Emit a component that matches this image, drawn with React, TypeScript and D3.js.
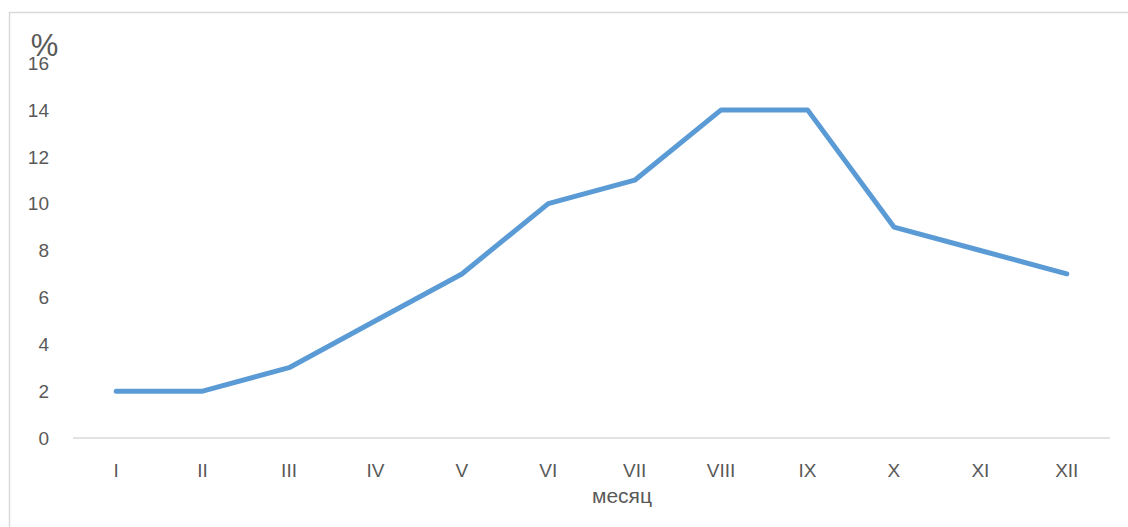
import React from "react";
import * as d3 from "d3";

const months = ["I", "II", "III", "IV", "V", "VI", "VII", "VIII", "IX", "X", "XI", "XII"];
const values = [2, 2, 3, 5, 7, 10, 11, 14, 14, 9, 8, 7];
const yTicks = [0, 2, 4, 6, 8, 10, 12, 14, 16];

const W = 1128;
const H = 527;
const font = "'Liberation Sans', Arial, sans-serif";
const textColor = "#595959";

export default function App() {
  const x = d3.scalePoint<string>().domain(months).range([73, 1110]).padding(0.5);
  const y = d3.scaleLinear().domain([0, 16]).range([438, 63]);
  const line = d3
    .line<number>()
    .x((_, i) => x(months[i]) as number)
    .y((d) => y(d));

  return (
    <svg
      width={W}
      height={H}
      style={{ position: "absolute", left: 0, top: 0, background: "#fff" }}
    >
      <rect x={0} y={0} width={W} height={H} fill="#fff" />
      <rect x={9.5} y={12.5} width={W + 20} height={H + 20} fill="none" stroke="#d9d9d9" strokeWidth={1.5} />
      <line x1={73} x2={1110} y1={y(0)} y2={y(0)} stroke="#d9d9d9" strokeWidth={1.5} />
      {yTicks.map((t) => (
        <text
          key={t}
          x={49}
          y={y(t)}
          dy="0.36em"
          textAnchor="end"
          fontFamily={font}
          fontSize={19}
          fill={textColor}
        >
          {t}
        </text>
      ))}
      {months.map((m) => (
        <text
          key={m}
          x={x(m) as number}
          y={477}
          textAnchor="middle"
          fontFamily={font}
          fontSize={19}
          fill={textColor}
        >
          {m}
        </text>
      ))}
      <text x={622} y={503} textAnchor="middle" fontFamily={font} fontSize={21} fill={textColor}>
        месяц
      </text>
      <text x={44.5} y={56} textAnchor="middle" fontFamily={font} fontSize={31} fill={textColor}>
        %
      </text>
      <path
        d={line(values) || ""}
        fill="none"
        stroke="#5B9BD5"
        strokeWidth={5}
        strokeLinecap="round"
        strokeLinejoin="round"
      />
    </svg>
  );
}
